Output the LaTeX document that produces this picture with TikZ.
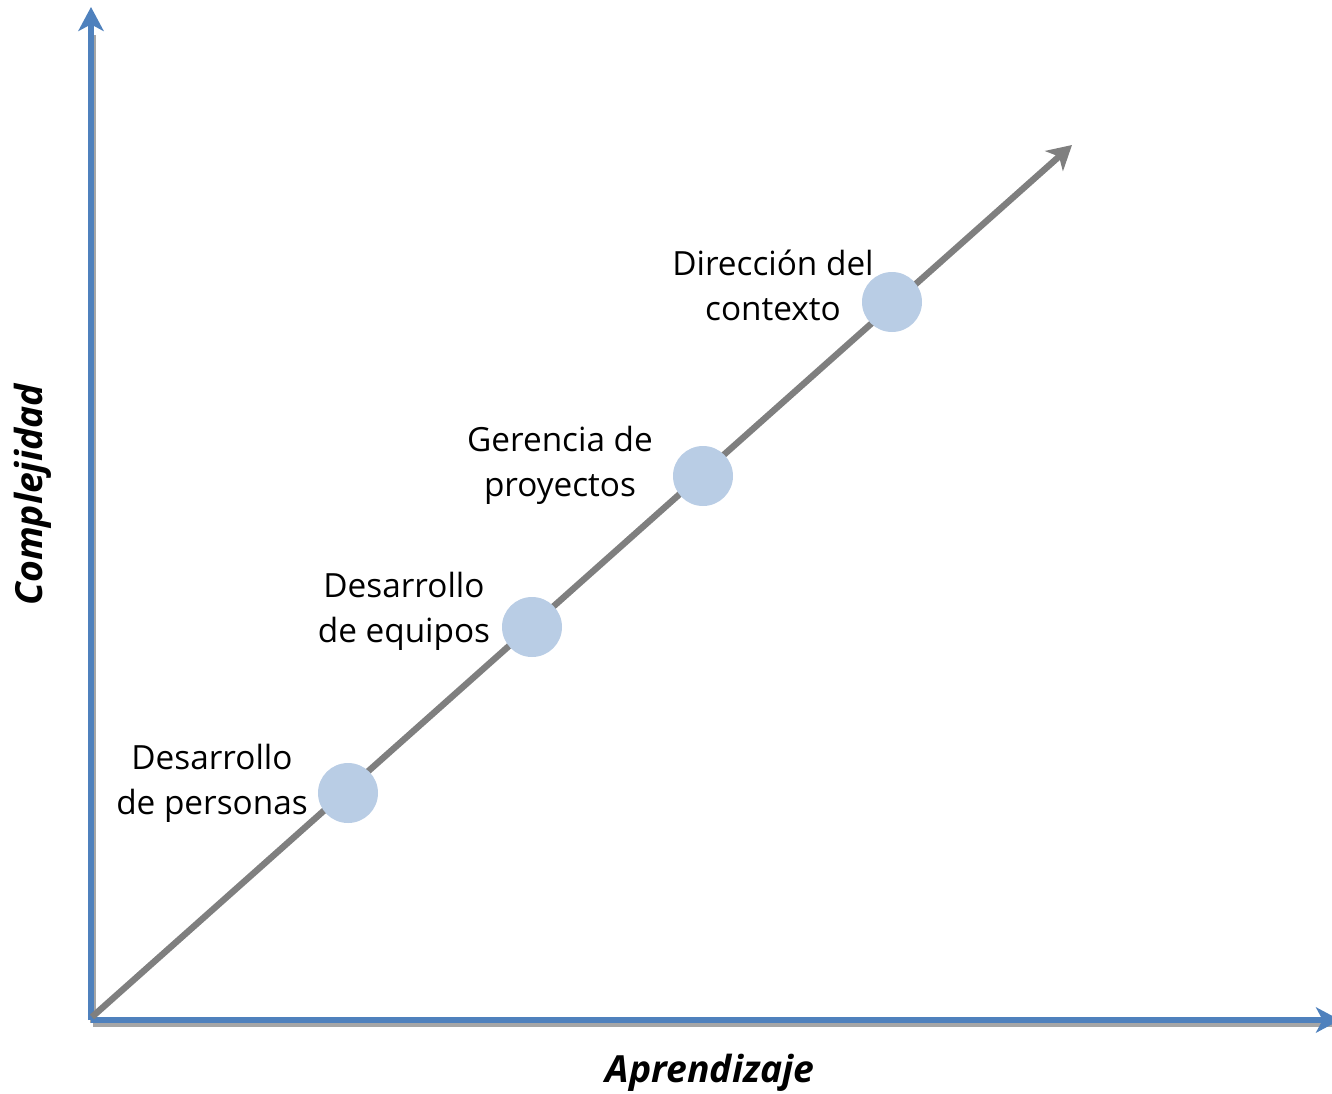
\documentclass[tikz,border=0pt]{standalone}
\usepackage{fontspec}
\setmainfont{Open Sans}
\usetikzlibrary{arrows.meta}
\definecolor{axisblue}{HTML}{4F81BD}
\definecolor{diaggray}{HTML}{7F7F7F}
\definecolor{dotblue}{HTML}{B9CDE5}
\begin{document}
\begin{tikzpicture}[x=0.75pt,y=-0.75pt,
  axisline/.style={draw=axisblue,line width=3.8pt,-{Stealth[length=18pt,width=19pt,inset=5pt]}},
  shadowline/.style={draw=black!35,line width=3.8pt},
  diagline/.style={draw=diaggray,line width=4.8pt,-{Stealth[length=18pt,width=20pt,inset=5pt]}},
  dot/.style={circle,fill=dotblue,minimum size=45pt,inner sep=0pt},
  lbl/.style={align=center,font=\fontsize{25}{33.75}\selectfont},
  axlbl/.style={font=\fontsize{28}{32}\selectfont\bfseries\itshape}]
\useasboundingbox (0,0) rectangle (1332,1093);
\coordinate (o) at (91,1020);
\coordinate (ytip) at (91,7);
\coordinate (xtip) at (1340,1020);
\coordinate (dtip) at (1072,145);
% shadows
\draw[shadowline] ([shift={(2,4)}]o) -- ([shift={(2,4)}]xtip);
\draw[shadowline] ([shift={(2,3)}]o) -- ([shift={(2,3)}]91,32);
% axes
\draw[axisline] (o) -- (ytip);
\draw[axisline] (o) -- (xtip);
% diagonal
\draw[diagline] ([shift={(1,-3)}]o) -- (dtip);
% dots
\node[dot] (d1) at (348,793) {};
\node[dot] (d2) at (532,627) {};
\node[dot] (d3) at (703,476) {};
\node[dot] (d4) at (892,302) {};
% labels
\node[lbl] (l1) at (212,783) {Desarrollo\\de personas};
\node[lbl] (l2) at (404,611) {Desarrollo\\de equipos};
\node[lbl] (l3) at (560,465) {Gerencia de\\proyectos};
\node[lbl] (l4) at (773,285) {Dirección del\\contexto};
% axis labels
\node[axlbl,rotate=90] (yl) at (33,495) {Complejidad};
\node[axlbl] (xl) at (710,1073) {Aprendizaje};
\end{tikzpicture}
\end{document}
